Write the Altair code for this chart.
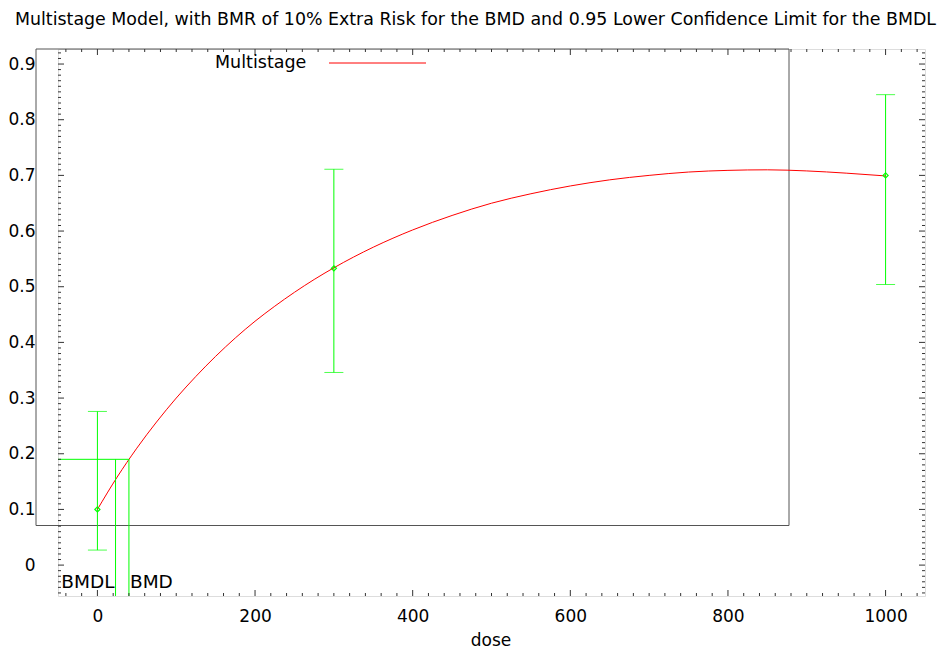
import altair as alt
import pandas as pd

# ---- data ----
doses = [0, 300, 1000]
observed = [0.100, 0.533, 0.700]
ci_low = [0.027, 0.346, 0.504]
ci_high = [0.276, 0.711, 0.845]

curve_dose = [0, 25, 50, 75, 100, 125, 150, 175, 200, 225, 250, 275, 300, 350, 400, 450, 500,
              550, 600, 650, 700, 750, 800, 850, 900, 950, 1000]
curve_resp = [0.100, 0.158, 0.210, 0.257, 0.300, 0.339, 0.375, 0.408, 0.438, 0.465, 0.490,
              0.513, 0.534, 0.571, 0.602, 0.628, 0.650, 0.667, 0.681, 0.692, 0.700, 0.706,
              0.709, 0.710, 0.708, 0.704, 0.699]

bmr_level = 0.19
bmd = 40
bmdl = 23

x_major = [0, 200, 400, 600, 800, 1000]
x_minor = [v for v in range(-40, 1041, 20) if v % 200 != 0]
y_major = [0.0, 0.1, 0.2, 0.3, 0.4, 0.5, 0.6, 0.7, 0.8, 0.9]
y_minor = [round(-0.05 + 0.01 * i, 2) for i in range(0, 98)
           if round(-0.05 + 0.01 * i, 2) <= 0.92 and (i % 10) != 5]

title_text = ("Multistage Model, with BMR of 10% Extra Risk for the BMD and "
              "0.95 Lower Confidence Limit for the BMDL")

W, H = 867, 547
FONT = "DejaVu Sans"
FS = 17
GREEN = "#00ff00"
RED = "#ff0000"
FRAME = "#333333"

xs = alt.Scale(domain=[-50, 1050], nice=False, zero=False)
ys = alt.Scale(domain=[-0.0555, 0.927], nice=False, zero=False)

xaxis = alt.Axis(values=x_major, format="d", ticks=False, tickSize=0, domain=False,
                 grid=False, labelFont=FONT, labelFontSize=FS, labelColor="black",
                 labelBaseline="alphabetic", labelPadding=25, title=None)
yaxis = alt.Axis(values=y_major, format=".1~f", ticks=False, tickSize=0, domain=False,
                 grid=False, labelFont=FONT, labelFontSize=FS, labelColor="black",
                 labelPadding=23, title=None)


def X(field="x"):
    return alt.X(f"{field}:Q", scale=xs, axis=xaxis)


def Y(field="y"):
    return alt.Y(f"{field}:Q", scale=ys, axis=yaxis)


pts = pd.DataFrame({"x": doses, "y": observed, "lo": ci_low, "hi": ci_high})
curve = pd.DataFrame({"x": curve_dose, "y": curve_resp})

layers = []

# legend box artefact
layers.append(
    alt.Chart(pd.DataFrame({"a": [0]})).mark_rect(fill=None, stroke="#555555", strokeWidth=1)
    .encode(x=alt.value(-22), x2=alt.value(731), y=alt.value(0), y2=alt.value(476.5))
)

# error bars
layers.append(
    alt.Chart(pts).mark_rule(color=GREEN, strokeWidth=1)
    .encode(x=X(), y=Y("lo"), y2="hi:Q")
)
for f in ["lo", "hi"]:
    layers.append(
        alt.Chart(pts).mark_tick(color=GREEN, orient="horizontal", size=19, thickness=1)
        .encode(x=X(), y=Y(f))
    )

# model curve
layers.append(
    alt.Chart(curve).mark_line(color=RED, strokeWidth=1, interpolate="monotone")
    .encode(x=X(), y=Y())
)

# observed points
layers.append(
    alt.Chart(pts).mark_point(shape="diamond", filled=False, color=GREEN, size=26, strokeWidth=1.2, opacity=1)
    .encode(x=X(), y=Y())
)

# BMD / BMDL lines
hline = pd.DataFrame({"x": [-50], "x2": [bmd], "y": [bmr_level]})
layers.append(
    alt.Chart(hline).mark_rule(color=GREEN, strokeWidth=1)
    .encode(x=X(), x2="x2:Q", y=Y())
)
vlines = pd.DataFrame({"x": [bmdl, bmd], "y": [bmr_level, bmr_level], "y2": [-0.0555, -0.0555]})
layers.append(
    alt.Chart(vlines).mark_rule(color=GREEN, strokeWidth=1)
    .encode(x=X(), y=Y(), y2="y2:Q")
)

# BMDL / BMD labels
layers.append(
    alt.Chart(pd.DataFrame({"x": [bmdl], "t": ["BMDL"]}))
    .mark_text(font=FONT, fontSize=18.5, align="right", baseline="middle", dx=-1, color="black")
    .encode(x=X(), y=alt.value(533), text="t:N")
)
layers.append(
    alt.Chart(pd.DataFrame({"x": [bmd], "t": ["BMD"]}))
    .mark_text(font=FONT, fontSize=18.5, align="left", baseline="middle", dx=1, color="black")
    .encode(x=X(), y=alt.value(533), text="t:N")
)

# tick marks (inward, mirrored)
def xticks(vals, L):
    d = pd.DataFrame({"x": vals})
    return [
        alt.Chart(d).mark_rule(color=FRAME, strokeWidth=1)
        .encode(x=X(), y=alt.value(H), y2=alt.value(H - L)),
        alt.Chart(d).mark_rule(color=FRAME, strokeWidth=1)
        .encode(x=X(), y=alt.value(0), y2=alt.value(L)),
    ]


def yticks(vals, L):
    d = pd.DataFrame({"y": vals})
    return [
        alt.Chart(d).mark_rule(color=FRAME, strokeWidth=1)
        .encode(y=Y(), x=alt.value(0), x2=alt.value(L)),
        alt.Chart(d).mark_rule(color=FRAME, strokeWidth=1)
        .encode(y=Y(), x=alt.value(W), x2=alt.value(W - L)),
    ]


layers += xticks(x_major, 6) + xticks(x_minor, 3)
layers += yticks(y_major, 6) + yticks(y_minor, 3)

# legend
layers.append(
    alt.Chart(pd.DataFrame({"t": ["Multistage"]}))
    .mark_text(font=FONT, fontSize=17.5, align="left", baseline="middle", color="black")
    .encode(x=alt.value(157), y=alt.value(14), text="t:N")
)
layers.append(
    alt.Chart(pd.DataFrame({"a": [0]})).mark_rule(color=RED, strokeWidth=1)
    .encode(x=alt.value(271), x2=alt.value(368), y=alt.value(14))
)

# x-axis title and chart title
layers.append(
    alt.Chart(pd.DataFrame({"t": ["dose"]}))
    .mark_text(font=FONT, fontSize=FS, align="center", baseline="alphabetic", color="black")
    .encode(x=alt.value(433), y=alt.value(597), text="t:N")
)
layers.append(
    alt.Chart(pd.DataFrame({"t": [title_text]}))
    .mark_text(font=FONT, fontSize=17.4, align="left", baseline="middle", color="black")
    .encode(x=alt.value(-43), y=alt.value(-29), text="t:N")
)

chart = (
    alt.layer(*layers)
    .properties(width=W, height=H,
                autosize=alt.AutoSizeParams(type="none"),
                padding={"left": 50, "top": 41, "right": 18, "bottom": 54})
    .configure_view(stroke=FRAME, strokeWidth=1)
    .configure(background="white")
)

chart.save("out.html", embed_options={"renderer": "svg", "actions": False})
